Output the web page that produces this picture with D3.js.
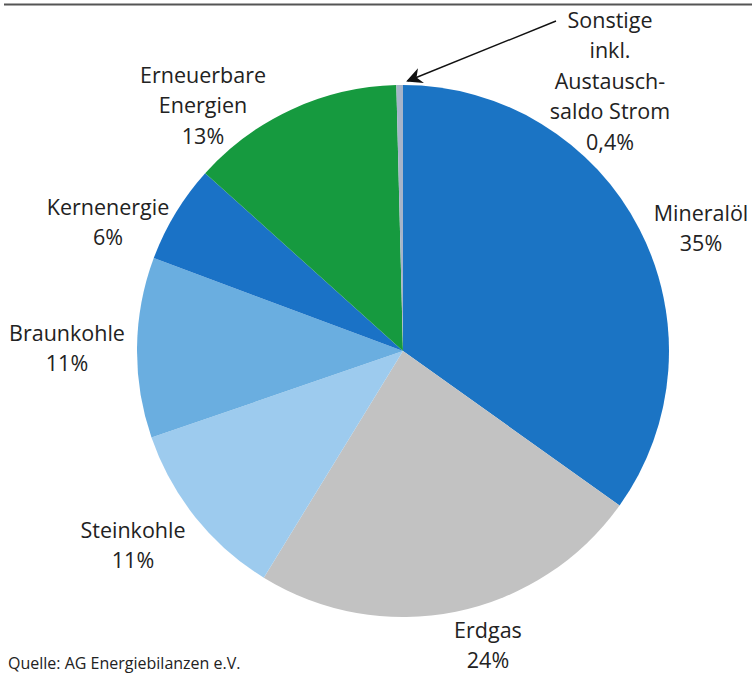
<!DOCTYPE html>
<html>
<head>
<meta charset="utf-8">
<script src="https://cdn.jsdelivr.net/npm/d3@7"></script>
<style>
  html, body { margin: 0; padding: 0; background: #ffffff; }
  svg { display: block; }
  text { font-family: "Open Sans", "Noto Sans", sans-serif; fill: #222222; }
</style>
</head>
<body>
<svg id="chart" width="752" height="675"></svg>
<script>
// Primärenergieverbrauch nach Energieträgern (Anteile in %)
const categories = ["Mineralöl", "Erdgas", "Steinkohle", "Braunkohle", "Kernenergie", "Erneuerbare Energien", "Sonstige"];
const shares = [35, 24, 11, 11, 6, 13, 0.4];
const shareLabels = ["35%", "24%", "11%", "11%", "6%", "13%", "0,4%"];
const labelLines = [
  ["Mineralöl"],
  ["Erdgas"],
  ["Steinkohle"],
  ["Braunkohle"],
  ["Kernenergie"],
  ["Erneuerbare", "Energien"],
  ["Sonstige", "inkl.", "Austausch-", "saldo Strom"]
];
const colors = ["#1b74c4", "#c2c2c2", "#9dcbee", "#6aaee0", "#1a72c6", "#169a3f", "#a6b4c9"];
const source = "Quelle: AG Energiebilanzen e.V.";

const svg = d3.select("#chart");
const W = 752;

const cx = 403, cy = 351, R = 266;

// header rule
svg.append("line")
  .attr("x1", 4).attr("x2", W).attr("y1", 4.5).attr("y2", 4.5)
  .attr("stroke", "#555555").attr("stroke-width", 2);

const data = categories.map((c, i) => ({ name: c, value: shares[i], label: shareLabels[i], lines: labelLines[i], color: colors[i] }));

const pie = d3.pie().sort(null).value(d => d.value);
const arc = d3.arc().innerRadius(0).outerRadius(R);
const arcs = pie(data);

const g = svg.append("g").attr("transform", `translate(${cx},${cy})`);
g.selectAll("path.slice")
  .data(arcs)
  .join("path")
  .attr("class", "slice")
  .attr("d", arc)
  .attr("fill", d => d.data.color);

// label anchor positions (centre of text block, first line)
const labelPos = [
  { x: 701, y: 213 },
  { x: 488, y: 630 },
  { x: 133, y: 530 },
  { x: 67,  y: 333 },
  { x: 108, y: 207 },
  { x: 203, y: 75 },
  { x: 610, y: 20 }
];
const lineH = 30.5;
const fontSize = 21.5;

arcs.forEach((a, i) => {
  const p = labelPos[i];
  const lines = a.data.lines.concat([a.data.label]);
  const t = svg.append("text")
    .attr("text-anchor", "middle")
    .attr("font-size", fontSize);
  lines.forEach((ln, k) => {
    t.append("tspan")
      .attr("x", p.x)
      .attr("y", p.y + k * lineH)
      .attr("dy", "0.35em")
      .text(ln);
  });
});

// arrow pointing at the thin "Sonstige" slice
const defs = svg.append("defs");
defs.append("marker")
  .attr("id", "arrowhead")
  .attr("viewBox", "0 0 10 10")
  .attr("refX", 9).attr("refY", 5)
  .attr("markerWidth", 16).attr("markerHeight", 16)
  .attr("markerUnits", "userSpaceOnUse")
  .attr("orient", "auto")
  .append("path")
  .attr("d", "M0,0 L10,5 L0,10 L3,5 Z")
  .attr("fill", "#111111");

const sonst = arcs[arcs.length - 1];
const midA = (sonst.startAngle + sonst.endAngle) / 2;
const tipX = cx + (R + 4) * Math.sin(midA) + 8;
const tipY = cy - (R + 4) * Math.cos(midA);
svg.append("line")
  .attr("x1", 556).attr("y1", 21)
  .attr("x2", tipX).attr("y2", tipY)
  .attr("stroke", "#111111").attr("stroke-width", 1.4)
  .attr("marker-end", "url(#arrowhead)");

// source note
svg.append("text")
  .attr("x", 8).attr("y", 669)
  .attr("font-size", 16)
  .text(source);
</script>
</body>
</html>
